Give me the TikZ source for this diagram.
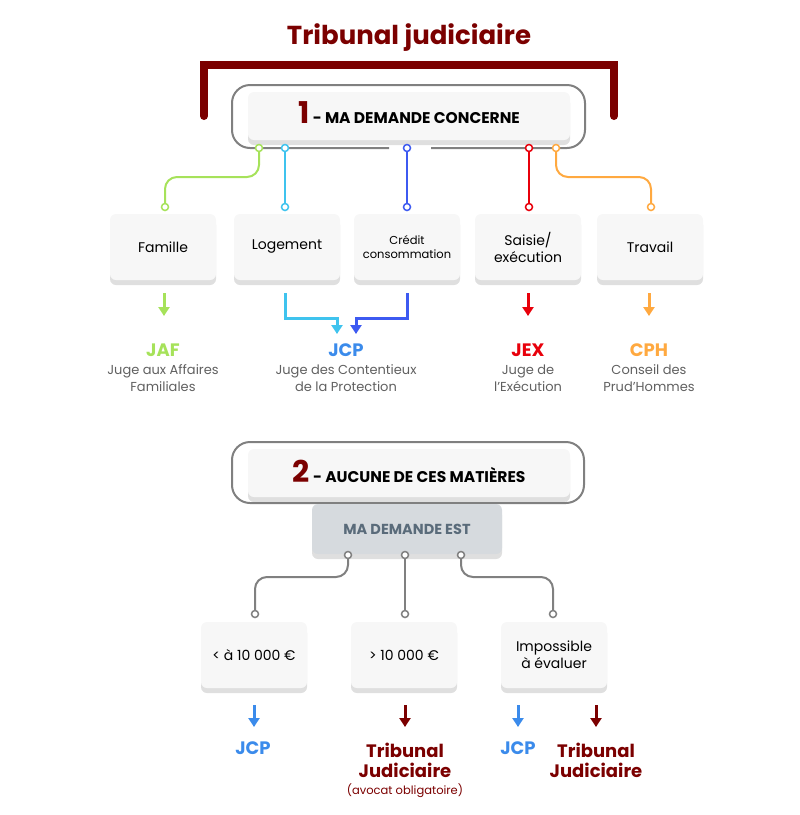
\documentclass[tikz,border=0pt]{standalone}
\usepackage{fontspec}
\setmainfont{Poppins}
\usetikzlibrary{shadows,arrows.meta}
\definecolor{darkred}{HTML}{7B0000}
\definecolor{cgreen}{HTML}{A6E25A}
\definecolor{ccyan}{HTML}{3FC3EE}
\definecolor{cblue}{HTML}{3D5AF1}
\definecolor{cred}{HTML}{E8000B}
\definecolor{corange}{HTML}{FFA940}
\definecolor{jcp}{HTML}{3B8BEB}
\definecolor{slate}{HTML}{5A6B7A}
\begin{document}
\begin{tikzpicture}[x=1pt,y=-1pt]
  \tikzset{box/.style={rounded corners=6pt, fill=gray!6, minimum width=106pt, minimum height=66pt, align=center, font=\fontsize{14}{17}\selectfont, drop shadow={opacity=0.25, shadow xshift=0pt, shadow yshift=-5pt}}}
  \tikzset{dot/.style={circle, draw=#1, fill=white, line width=1.5pt, inner sep=0pt, minimum size=7pt}}
  \tikzset{wire/.style={draw=#1, line width=2pt, rounded corners=12pt}}
  \tikzset{down/.style={draw=#1, line width=3pt, -{Triangle[width=11pt,length=9pt]}}}
  \tikzset{abbr/.style={font=\bfseries\fontsize{18}{20}\selectfont, text=#1}}
  \tikzset{desc/.style={font=\fontsize{13}{16.5}\selectfont, text=gray!75!black, align=center}}
  \tikzset{big/.style={font=\bfseries\fontsize{18}{20}\selectfont, text=darkred, align=center}}

  \useasboundingbox (0,0) rectangle (800,815);

  % title and bracket
  \node[font=\bfseries\fontsize{26}{30}\selectfont, text=darkred] (title) at (409,38) {Tribunal judiciaire};
  \draw[darkred, line width=8pt, line cap=round] (204,116) -- (204,65) -- (614,65) -- (614,116);

  % section 1
  \draw[gray, line width=2pt, rounded corners=18pt] (389,148) -- (232,148) -- (232,85) -- (585,85) -- (585,148) -- (431,148);
  \node[box, minimum width=322pt, minimum height=48pt] (q1) at (409,116) {};
  \node at (409,113) {\textcolor{darkred}{\bfseries\fontsize{30}{30}\selectfont 1}\,\,\bfseries\fontsize{15.5}{18}\selectfont - MA DEMANDE CONCERNE};

  \node[box] (famille) at (163,247) {Famille};
  \node[box] (logement) at (287,247) {Logement};
  \node[box, font=\fontsize{11.5}{14}\selectfont] (credit) at (407,247) {Crédit\\consommation};
  \node[box] (saisie) at (528,247) {Saisie/\\exécution};
  \node[box] (travail) at (650,247) {Travail};

  \coordinate (g0) at (259,148); \coordinate (g1) at (165,207);
  \coordinate (c0) at (285,148); \coordinate (c1) at (285,207);
  \coordinate (b0) at (407,148); \coordinate (b1) at (407,207);
  \coordinate (r0) at (529,148); \coordinate (r1) at (529,207);
  \coordinate (o0) at (556,148); \coordinate (o1) at (651,207);
  \path[wire=cgreen] (g0) |- (212,177) -| (g1);
  \path[wire=ccyan] (c0) -- (c1);
  \path[wire=cblue] (b0) -- (b1);
  \path[wire=cred] (r0) -- (r1);
  \path[wire=corange] (o0) |- (600,177) -| (o1);
  \foreach \p/\c in {g0/cgreen,g1/cgreen,c0/ccyan,c1/ccyan,b0/cblue,b1/cblue,r0/cred,r1/cred,o0/corange,o1/corange}
    \node[dot=\c] at (\p) {};

  \draw[down=cgreen] (164,293) -- (164,316);
  \draw[down=cred] (528,293) -- (528,316);
  \draw[down=corange] (649,293) -- (649,316);
  \draw[down=ccyan] (285,293) -- (285,318) -- (337,318) -- (337,334);
  \draw[down=cblue] (407,293) -- (407,318) -- (356,318) -- (356,334);

  \node[abbr=cgreen] (jaf) at (163,350) {JAF};
  \node[desc] at (163,378) {Juge aux Affaires\\Familiales};
  \node[abbr=jcp] (jcp1) at (346,350) {JCP};
  \node[desc] at (346,378) {Juge des Contentieux\\de la Protection};
  \node[abbr=cred] (jex) at (528,350) {JEX};
  \node[desc] at (528,378) {Juge de\\l’Exécution};
  \node[abbr=corange] (cph) at (649,350) {CPH};
  \node[desc] at (649,378) {Conseil des\\Prud’Hommes};

  % section 2
  \draw[gray, line width=2pt, rounded corners=18pt] (232,442) rectangle (584,503);
  \node[box, minimum width=322pt, minimum height=48pt] (q2) at (409,473) {};
  \node at (409,471) {\textcolor{darkred}{\bfseries\fontsize{30}{30}\selectfont 2}\,\,\bfseries\fontsize{15.5}{18}\selectfont - AUCUNE DE CES MATIÈRES};
  \node[box, fill=slate!25, minimum width=190pt, minimum height=50pt, text=slate, font=\bfseries\fontsize{14.5}{16}\selectfont] (est) at (407,529) {MA DEMANDE EST};

  \node[box] (moins) at (254,655) {< à 10 000 €};
  \node[box] (plus) at (404,655) {> 10 000 €};
  \node[box] (impo) at (554,655) {Impossible\\à évaluer};

  \coordinate (e1) at (348,555); \coordinate (f1) at (255,614);
  \coordinate (e2) at (405,555); \coordinate (f2) at (405,614);
  \coordinate (e3) at (461,555); \coordinate (f3) at (553,614);
  \path[wire=gray] (e1) |- (300,577) -| (f1);
  \path[wire=gray] (e2) -- (f2);
  \path[wire=gray] (e3) |- (510,577) -| (f3);
  \foreach \p in {e1,f1,e2,f2,e3,f3}
    \node[dot=gray] at (\p) {};

  \draw[down=jcp] (254,705) -- (254,727);
  \draw[down=darkred] (405,705) -- (405,727);
  \draw[down=jcp] (518,705) -- (518,727);
  \draw[down=darkred] (596,705) -- (596,727);

  \node[abbr=jcp] (jcp2) at (253,748) {JCP};
  \node[big] (tj1) at (405,760) {Tribunal\\Judiciaire};
  \node[text=darkred, font=\fontsize{11.5}{13}\selectfont] (avocat) at (405,791) {(avocat obligatoire)};
  \node[abbr=jcp] (jcp3) at (518,748) {JCP};
  \node[big] (tj2) at (596,760) {Tribunal\\Judiciaire};
\end{tikzpicture}
\end{document}
